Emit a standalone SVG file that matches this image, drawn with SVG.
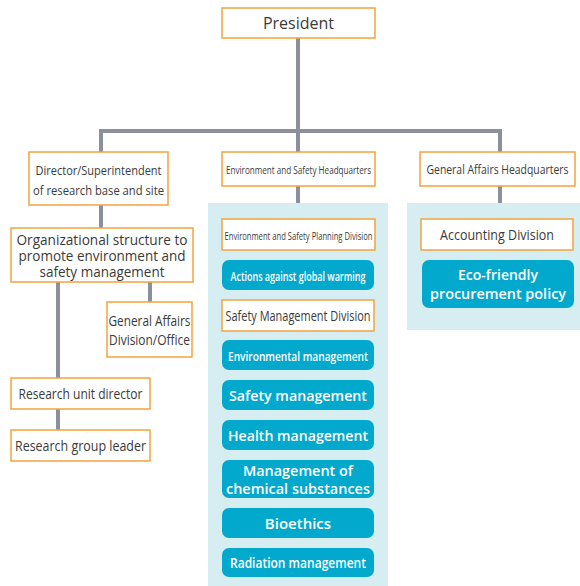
<svg xmlns="http://www.w3.org/2000/svg" width="580" height="586" viewBox="0 0 580 586">
<style>
.box{fill:#fff;stroke:#f5a23e;stroke-width:1.5}
.pill{fill:#03a8cd}
.panel{fill:#d6edf1}
.t{font-family:"Open Sans","Noto Sans",sans-serif;fill:#3a3a3a;text-anchor:middle}
.w{font-family:"Open Sans","Noto Sans",sans-serif;fill:#fff;text-anchor:middle;font-weight:600}
.ln{stroke:#8b909b;stroke-width:4;fill:none}
</style>
<rect width="580" height="586" fill="#fff"/>
<rect class="panel" x="208" y="203" width="180" height="383"/>
<rect class="panel" x="407" y="203" width="173" height="127"/>
<g id="connectors">
<path class="ln" d="M298 38V152M101 152V131H500V152M298 186V203M500 186V203M101 205V228M58 282V378M150 282V302M58 409V430"/>
</g>
<g id="president"><rect class="box" x="222" y="8" width="153" height="30"/><text class="t" x="298.5" y="29" font-size="16">President</text></g>
<g id="director"><rect class="box" x="29" y="152" width="139" height="53"/><text class="t" x="98.5" y="175" font-size="13" textLength="126" lengthAdjust="spacingAndGlyphs">Director/Superintendent</text><text class="t" x="98.5" y="195" font-size="13" textLength="131" lengthAdjust="spacingAndGlyphs">of research base and site</text></g>
<g id="esh"><rect class="box" x="222" y="152" width="153" height="34"/><text class="t" x="298.5" y="174" font-size="11" textLength="145" lengthAdjust="spacingAndGlyphs">Environment and Safety Headquarters</text></g>
<g id="gah"><rect class="box" x="420" y="152" width="155" height="34"/><text class="t" x="497.5" y="174" font-size="13" textLength="142" lengthAdjust="spacingAndGlyphs">General Affairs Headquarters</text></g>
<g id="org"><rect class="box" x="11" y="228" width="182" height="54"/><text class="t" x="102" y="245" font-size="14.5" textLength="171" lengthAdjust="spacingAndGlyphs">Organizational structure to</text><text class="t" x="102" y="261" font-size="14.5" textLength="167" lengthAdjust="spacingAndGlyphs">promote environment and</text><text class="t" x="102" y="277" font-size="14.5" textLength="125" lengthAdjust="spacingAndGlyphs">safety management</text></g>
<g id="gad"><rect class="box" x="107" y="302" width="85" height="55"/><text class="t" x="149.5" y="326" font-size="14" textLength="82" lengthAdjust="spacingAndGlyphs">General Affairs</text><text class="t" x="149.5" y="345" font-size="14" textLength="81" lengthAdjust="spacingAndGlyphs">Division/Office</text></g>
<g id="rud"><rect class="box" x="11" y="378" width="139" height="31"/><text class="t" x="80.5" y="399" font-size="15" textLength="124" lengthAdjust="spacingAndGlyphs">Research unit director</text></g>
<g id="rgl"><rect class="box" x="11" y="430" width="139" height="31"/><text class="t" x="80.5" y="451" font-size="15" textLength="131" lengthAdjust="spacingAndGlyphs">Research group leader</text></g>
<g id="espd"><rect class="box" x="222" y="219" width="153" height="31"/><text class="t" x="298.5" y="240" font-size="11" textLength="148" lengthAdjust="spacingAndGlyphs">Environment and Safety Planning Division</text></g>
<g id="agw"><rect class="pill" x="222" y="260" width="152" height="30" rx="7"/><text class="w" x="298" y="281" font-size="13" textLength="135" lengthAdjust="spacingAndGlyphs">Actions against global warming</text></g>
<g id="smd"><rect class="box" x="222" y="300" width="152" height="31"/><text class="t" x="298" y="321" font-size="14" textLength="145" lengthAdjust="spacingAndGlyphs">Safety Management Division</text></g>
<g id="envm"><rect class="pill" x="222" y="340" width="152" height="30" rx="7"/><text class="w" x="298" y="361" font-size="13" textLength="140" lengthAdjust="spacingAndGlyphs">Environmental management</text></g>
<g id="safm"><rect class="pill" x="222" y="380" width="152" height="30" rx="7"/><text class="w" x="298" y="401" font-size="15" textLength="138" lengthAdjust="spacingAndGlyphs">Safety management</text></g>
<g id="hm"><rect class="pill" x="222" y="420" width="152" height="30" rx="7"/><text class="w" x="298" y="441" font-size="15" textLength="140" lengthAdjust="spacingAndGlyphs">Health management</text></g>
<g id="mcs"><rect class="pill" x="222" y="460" width="152" height="38" rx="7"/><text class="w" x="298" y="476" font-size="15" textLength="110" lengthAdjust="spacingAndGlyphs">Management of</text><text class="w" x="298" y="494" font-size="15" textLength="144" lengthAdjust="spacingAndGlyphs">chemical substances</text></g>
<g id="bio"><rect class="pill" x="222" y="508" width="152" height="30" rx="7"/><text class="w" x="298" y="529" font-size="15">Bioethics</text></g>
<g id="rad"><rect class="pill" x="222" y="548" width="152" height="29" rx="7"/><text class="w" x="298" y="568" font-size="14" textLength="136" lengthAdjust="spacingAndGlyphs">Radiation management</text></g>
<g id="acc"><rect class="box" x="421" y="219" width="152" height="31"/><text class="t" x="497" y="240" font-size="15" textLength="114" lengthAdjust="spacingAndGlyphs">Accounting Division</text></g>
<g id="eco"><rect class="pill" x="422" y="260" width="152" height="48" rx="7"/><text class="w" x="498" y="280" font-size="15" textLength="80" lengthAdjust="spacingAndGlyphs">Eco-friendly</text><text class="w" x="498" y="299" font-size="15" textLength="136" lengthAdjust="spacingAndGlyphs">procurement policy</text></g>
</svg>
